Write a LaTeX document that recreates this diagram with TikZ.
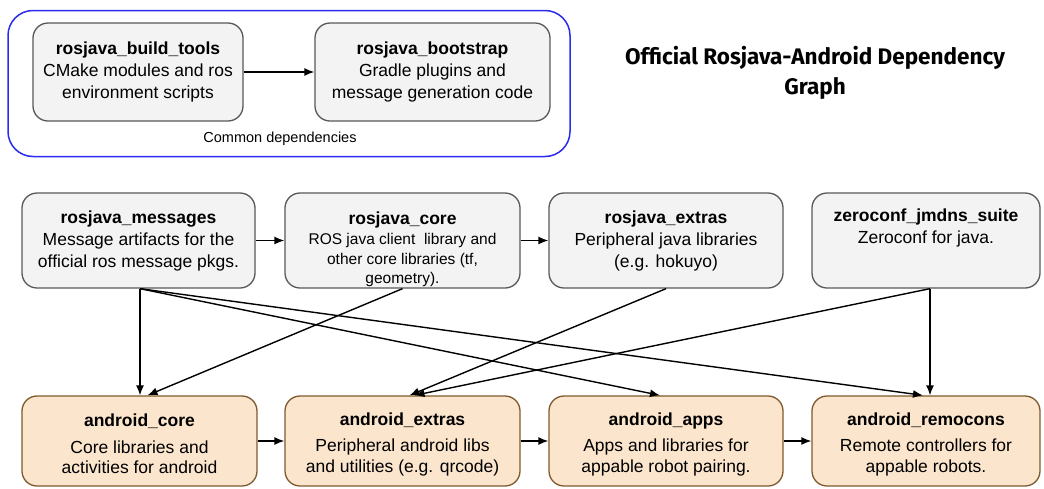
\documentclass[tikz,border=0pt]{standalone}
\usepackage{fontspec}
\setmainfont{Liberation Sans}
\newfontfamily\titlefont{Fira Sans}
\usetikzlibrary{arrows.meta,calc}
\definecolor{boxgrey}{HTML}{F3F3F3}
\definecolor{boxline}{HTML}{595959}
\definecolor{andfill}{HTML}{FCE5CD}
\definecolor{andline}{HTML}{7F5A2E}
\definecolor{contblue}{HTML}{2B2BF0}
\begin{document}
\begin{tikzpicture}[x=1pt,y=-1pt,
  greybox/.style={draw=boxline,fill=boxgrey,line width=1.3pt,rounded corners=15pt,
    align=center,inner sep=0pt,font=\fontsize{17.5}{22}\selectfont},
  andbox/.style={draw=andline,fill=andfill,line width=1.3pt,rounded corners=15pt,
    align=center,inner sep=0pt,font=\fontsize{17.5}{20.5}\selectfont},
  dep/.style={line width=1.4pt,-{Latex[length=10pt,width=8pt]}}]
\useasboundingbox (0,0) rectangle (1044,488);
\fill[white] (0,0) rectangle (1044,488);
% container
\node[draw=contblue,line width=1.5pt,rounded corners=25pt,minimum width=562pt,minimum height=146pt,inner sep=0pt] (cont) at (289,83.5) {};
\node[font=\fontsize{14.5}{17}\selectfont] (common) at (280,139) {Common dependencies};
\node[greybox,minimum width=210pt,minimum height=98pt] (bt) at (138,72)
  {\textbf{rosjava\_build\_tools}\\CMake modules and ros\\environment scripts};
\node[greybox,minimum width=235pt,minimum height=98pt] (bs) at (432.5,72)
  {\textbf{rosjava\_bootstrap}\\Gradle plugins and\\message generation code};
\draw[dep] (bt) -- (bs);
% title
\node[font=\titlefont\bfseries\fontsize{22.5}{30}\selectfont,align=center] (title) at (815,73)
  {Official Rosjava-Android Dependency\\Graph};
% row 2
\node[greybox,minimum width=233pt,minimum height=95pt] (msg) at (138.5,240.5)
  {\textbf{rosjava\_messages}\\Message artifacts for the\\official ros message pkgs.};
\node[greybox,minimum width=235pt,minimum height=95pt,font=\fontsize{15.5}{19.5}\selectfont] (core) at (402.5,240.5)
  {\rule{0pt}{30pt}{\fontsize{17.5}{22}\selectfont\textbf{rosjava\_core}}\\[1pt]ROS java client\ \ library and\\other core libraries (tf,\\geometry).};
\node[greybox,minimum width=234pt,minimum height=95pt] (ext) at (666,240.5)
  {\textbf{rosjava\_extras}\\Peripheral java libraries\\(e.g. hokuyo)};
\node[greybox,minimum width=228pt,minimum height=95pt] (zero) at (926,240.5)
  {\textbf{zeroconf\_jmdns\_suite}\\Zeroconf for java.\\\strut};
\draw[dep] (msg) -- (core);
\draw[dep] (core) -- (ext);
% row 3
\node[andbox,minimum width=235pt,minimum height=90pt] (acore) at (139.5,441)
  {\rule{0pt}{19pt}\textbf{android\_core}\\[6pt]Core libraries and\\activities for android};
\node[andbox,minimum width=235pt,minimum height=90pt] (aext) at (402.5,441)
  {\rule{0pt}{19pt}\textbf{android\_extras}\\[6pt]Peripheral android libs\\and utilities (e.g. qrcode)};
\node[andbox,minimum width=234pt,minimum height=90pt] (aapps) at (666,441)
  {\rule{0pt}{19pt}\textbf{android\_apps}\\[6pt]Apps and libraries for\\appable robot pairing.};
\node[andbox,minimum width=228pt,minimum height=90pt] (arem) at (926,441)
  {\rule{0pt}{19pt}\textbf{android\_remocons}\\[6pt]Remote controllers for\\appable robots.};
\draw[dep] (acore) -- (aext);
\draw[dep] (aext) -- (aapps);
\draw[dep] (aapps) -- (arem);
% cross dependencies
\coordinate (msgS) at ([xshift=1.5pt]msg.south);
\coordinate (zeroS) at ([xshift=4pt]zero.south);
\draw[dep] (msgS) -- (msgS |- acore.north);
\draw[dep] (msgS) -- ([xshift=-6pt]aapps.north);
\draw[dep] (msgS) -- ([xshift=-3pt]arem.north);
\draw[dep] (core.south) -- ([xshift=8pt]acore.north);
\draw[dep] (ext.south) -- ([xshift=7pt]aext.north);
\draw[dep] (zeroS) -- ([xshift=12pt]aext.north);
\draw[dep] (zeroS) -- (zeroS |- arem.north);
\end{tikzpicture}
\end{document}
